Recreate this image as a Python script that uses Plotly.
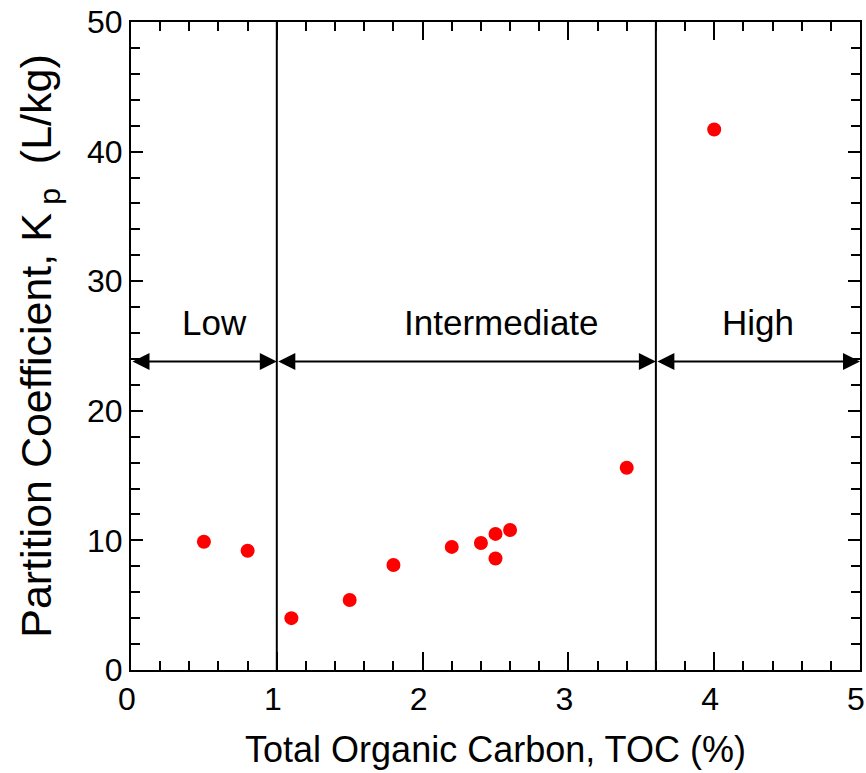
import plotly.graph_objects as go

toc = [0.5, 0.8, 1.1, 1.5, 1.8, 2.2, 2.4, 2.5, 2.5, 2.6, 3.4, 4.0]
kp = [9.9, 9.2, 4.0, 5.4, 8.1, 9.5, 9.8, 10.5, 8.6, 10.8, 15.6, 41.7]

boundaries = [1.0, 3.6]
region_names = ["Low", "Intermediate", "High"]
region_edges = [0, 1.0, 3.6, 5.0]
region_label_x = [0.57, 2.54, 4.3]
arrow_y = 23.8
label_y = 26.8

FONT = "Liberation Sans, Arial, sans-serif"

fig = go.Figure()
fig.add_trace(go.Scatter(
    x=toc, y=kp, mode="markers",
    marker=dict(color="#ff0000", size=14, line=dict(color="#ff0000", width=0)),
    showlegend=False,
))

for b in boundaries:
    fig.add_shape(type="line", x0=b, x1=b, y0=0, y1=50, xref="x", yref="y",
                  line=dict(color="black", width=2))

for i, name in enumerate(region_names):
    x0, x1 = region_edges[i], region_edges[i + 1]
    fig.add_annotation(x=x1, y=arrow_y, ax=x0, ay=arrow_y, xref="x", yref="y",
                       axref="x", ayref="y", showarrow=True, arrowhead=2,
                       startarrowhead=2, arrowside="end+start", arrowsize=1.7,
                       startarrowsize=1.7, arrowwidth=2, arrowcolor="black", text="")
    fig.add_annotation(x=region_label_x[i], y=label_y, xref="x", yref="y", text=name,
                       showarrow=False, font=dict(family=FONT, size=35, color="black"))

axis_common = dict(showline=True, linecolor="black", linewidth=2, mirror="ticks",
                   ticks="inside", tickcolor="black", showgrid=False, zeroline=False,
                   automargin=False, ticklabeloverflow="allow",
                   tickfont=dict(family=FONT, size=32, color="black"))

fig.update_xaxes(range=[0, 5], tick0=0, dtick=1, ticklen=18, tickwidth=2,
                 ticklabelshift=-4,
                 minor=dict(dtick=0.2, ticks="inside", ticklen=9, tickcolor="black", tickwidth=1.5),
                 title=dict(text="Total Organic Carbon, TOC (%)",
                            font=dict(family=FONT, size=36, color="black"), standoff=20),
                 **axis_common)
fig.update_yaxes(range=[0, 50], tick0=0, dtick=10, ticklen=12, tickwidth=2,
                 minor=dict(dtick=2, ticks="inside", ticklen=9, tickcolor="black", tickwidth=1.5),
                 title=dict(text="Partition Coefficient, K<sub> p</sub>  (L/kg)",
                            font=dict(family=FONT, size=43, color="black"), standoff=22),
                 **axis_common)

fig.update_layout(width=866, height=773, plot_bgcolor="white", paper_bgcolor="white",
                  margin=dict(l=131, r=6, t=22, b=103), showlegend=False)

fig.write_html("out.html")
